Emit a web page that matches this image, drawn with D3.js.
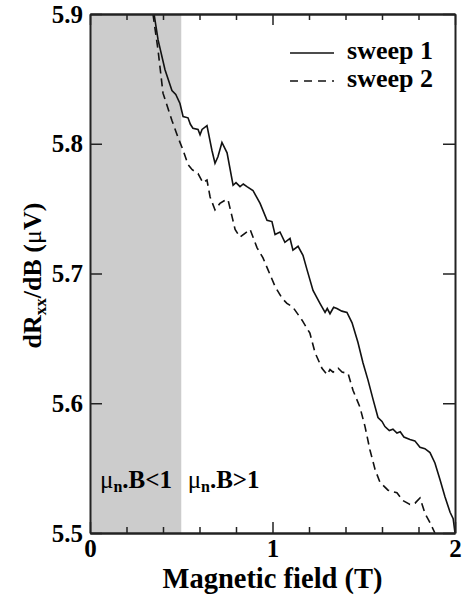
<!DOCTYPE html>
<html><head><meta charset="utf-8">
<script src="https://cdn.jsdelivr.net/npm/d3@7"></script>
<style>
body{margin:0;background:#fff}
</style></head><body>
<script>
// sweep 1 (solid)
var field1 = [0.351,0.373,0.411,0.449,0.470,0.493,0.510,0.537,0.550,0.564,0.592,0.603,0.614,0.641,0.668,0.685,0.701,0.723,0.751,0.784,0.800,0.822,0.840,0.860,0.893,0.932,0.970,0.997,1.014,1.041,1.068,1.096,1.112,1.140,1.167,1.189,1.222,1.260,1.288,1.300,1.315,1.335,1.353,1.380,1.408,1.436,1.468,1.496,1.523,1.551,1.578,1.600,1.616,1.640,1.660,1.682,1.700,1.720,1.753,1.780,1.808,1.835,1.863,1.890,1.918,1.945,1.973,1.990,2.0];
var sweep1 = [5.900,5.880,5.857,5.841,5.838,5.831,5.821,5.820,5.815,5.812,5.811,5.807,5.811,5.814,5.795,5.785,5.790,5.801,5.793,5.768,5.770,5.767,5.769,5.767,5.764,5.754,5.741,5.740,5.730,5.732,5.724,5.727,5.718,5.721,5.714,5.703,5.687,5.677,5.670,5.673,5.669,5.674,5.673,5.671,5.670,5.662,5.647,5.631,5.618,5.603,5.589,5.586,5.582,5.579,5.580,5.577,5.578,5.574,5.572,5.571,5.566,5.565,5.562,5.554,5.541,5.528,5.516,5.511,5.500];
// sweep 2 (dashed)
var field2 = [0.345,0.373,0.400,0.449,0.482,0.510,0.537,0.560,0.592,0.619,0.641,0.658,0.685,0.712,0.735,0.756,0.778,0.795,0.822,0.849,0.877,0.915,0.948,0.975,1.014,1.052,1.079,1.112,1.162,1.205,1.233,1.271,1.299,1.315,1.332,1.360,1.381,1.414,1.441,1.479,1.507,1.534,1.562,1.589,1.633,1.682,1.715,1.753,1.781,1.808,1.836,1.863,1.890];
var sweep2 = [5.900,5.872,5.839,5.818,5.805,5.795,5.784,5.780,5.777,5.770,5.772,5.759,5.749,5.754,5.756,5.757,5.744,5.734,5.728,5.731,5.734,5.720,5.712,5.703,5.690,5.681,5.677,5.674,5.664,5.654,5.639,5.627,5.622,5.626,5.624,5.627,5.624,5.623,5.610,5.597,5.582,5.564,5.549,5.539,5.533,5.531,5.525,5.522,5.523,5.527,5.515,5.508,5.500];
var seriesNames = ["sweep 1", "sweep 2"];
var xMajor = [0, 1, 2];
var xMinor = [0.2, 0.4, 0.6, 0.8, 1.2, 1.4, 1.6, 1.8];
var yMajor = [5.5, 5.6, 5.7, 5.8, 5.9];
var shadeEnd = 0.5;

var W = 465, H = 598;
var m = {l: 90, t: 14, r: 10, b: 65};
var w = W - m.l - m.r, h = H - m.t - m.b;

var svg = d3.select("body").append("svg").attr("width", W).attr("height", H);
var g = svg.append("g").attr("transform", "translate(" + m.l + "," + m.t + ")");

var x = d3.scaleLinear().domain([0, 2]).range([0, w]);
var y = d3.scaleLinear().domain([5.5, 5.9]).range([h, 0]);

g.append("rect").attr("x", 0).attr("y", 0).attr("width", x(shadeEnd)).attr("height", h).attr("fill", "#cccccc");

g.append("clipPath").attr("id", "clip").append("rect").attr("width", w).attr("height", h);

var line = d3.line().x(function(d){ return x(d[0]); }).y(function(d){ return y(d[1]); });
var d1 = d3.zip(field1, sweep1), d2 = d3.zip(field2, sweep2);

g.append("path").datum(d2).attr("d", line).attr("clip-path", "url(#clip)")
  .attr("fill", "none").attr("stroke", "#111").attr("stroke-width", 1.6).attr("stroke-dasharray", "8,5");
g.append("path").datum(d1).attr("d", line).attr("clip-path", "url(#clip)")
  .attr("fill", "none").attr("stroke", "#111").attr("stroke-width", 1.6);

// axes, ticks inward
function style(a){
  a.attr("font-family", null);
  a.selectAll(".domain").attr("stroke", "#222").attr("stroke-width", 2);
  a.selectAll(".tick line").attr("stroke", "#222").attr("stroke-width", 1.5);
}
var bx = g.append("g").attr("transform", "translate(0," + h + ")")
  .call(d3.axisBottom(x).tickValues(xMajor).tickFormat(d3.format("d")).tickSizeInner(-11).tickSizeOuter(0).tickPadding(6));
bx.selectAll("text").attr("font-size", 25);
style(bx);
var bxm = g.append("g").attr("transform", "translate(0," + h + ")")
  .call(d3.axisBottom(x).tickValues(xMinor).tickFormat("").tickSizeInner(-6).tickSizeOuter(0));
style(bxm);
var tx = g.append("g").call(d3.axisTop(x).tickValues(xMajor).tickFormat("").tickSizeInner(-11).tickSizeOuter(0));
style(tx);
var txm = g.append("g").call(d3.axisTop(x).tickValues(xMinor).tickFormat("").tickSizeInner(-6).tickSizeOuter(0));
style(txm);
var ly = g.append("g").call(d3.axisLeft(y).tickValues(yMajor).tickFormat(d3.format(".1f")).tickSizeInner(-12).tickSizeOuter(0).tickPadding(7));
ly.selectAll("text").attr("font-size", 25);
style(ly);
var ry = g.append("g").attr("transform", "translate(" + w + ",0)")
  .call(d3.axisRight(y).tickValues(yMajor).tickFormat("").tickSizeInner(-12).tickSizeOuter(0));
style(ry);

// axis titles
svg.append("text").attr("x", m.l + w / 2).attr("y", 588).attr("text-anchor", "middle")
  .attr("font-size", 28.5).text("Magnetic field (T)");
var yt = svg.append("text").attr("transform", "translate(41," + (m.t + h / 2 + 2) + ") rotate(-90)")
  .attr("text-anchor", "middle").attr("font-size", 26);
yt.append("tspan").text("dR");
yt.append("tspan").attr("font-size", 17).attr("dy", 5).text("xx");
yt.append("tspan").attr("dy", -5).text("/dB (");
yt.append("tspan").attr("font-weight", "normal").text("\u03bc");
yt.append("tspan").text("V)");

// regime labels
function regime(x0, s){
  var t = g.append("text").attr("x", x0).attr("y", y(5.535)).attr("font-size", 25);
  t.append("tspan").attr("font-weight", "normal").text("\u03bc");
  t.append("tspan").attr("font-size", 16).attr("dy", 4).text("n");
  t.append("tspan").attr("dy", -4).text(s);
}
regime(x(0.055), ".B<1");
regime(x(0.535), ".B>1");

// legend
var lg = g.append("g").attr("transform", "translate(" + x(1.096) + ",39)");
seriesNames.forEach(function(n, i){
  lg.append("line").attr("x1", 0).attr("x2", 44).attr("y1", i * 28).attr("y2", i * 28)
    .attr("stroke", "#111").attr("stroke-width", 1.6).attr("stroke-dasharray", i ? "8,6" : null);
  lg.append("text").attr("x", 57).attr("y", i * 28 + 6).attr("font-size", 26).text(n);
});

svg.attr("font-family", "Liberation Serif").attr("font-weight", "bold");
svg.selectAll("text").style("font-family", "Liberation Serif").attr("fill", "#000");
</script>
</body></html>
